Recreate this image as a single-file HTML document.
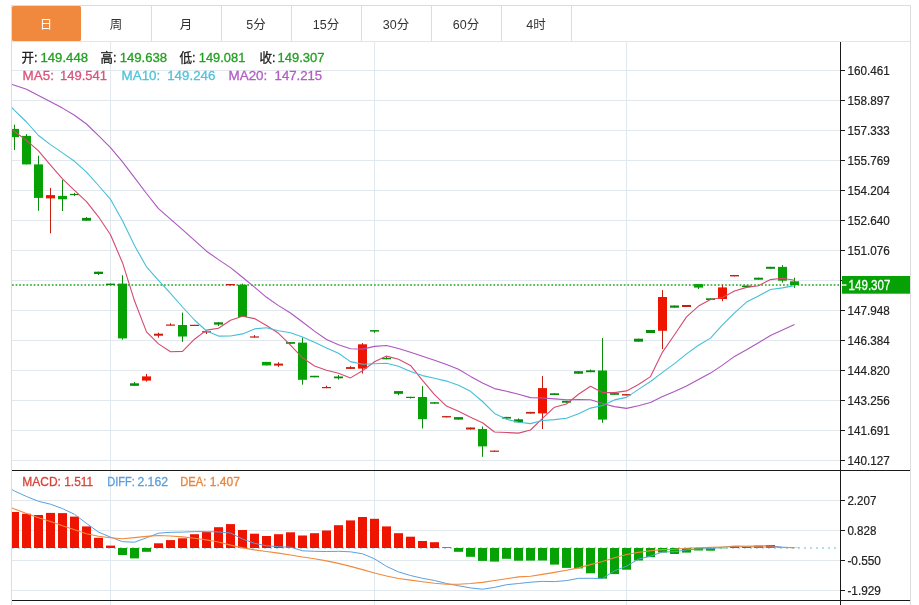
<!DOCTYPE html><html><head><meta charset="utf-8"><title>K线</title><style>html,body{margin:0;padding:0;background:#fff}</style></head><body><svg width="919" height="605" viewBox="0 0 919 605" style="display:block;font-family:'Liberation Sans','Noto Sans CJK SC',sans-serif">
<rect width="919" height="605" fill="#fff"/>
<defs><clipPath id="cm"><rect x="12" y="42" width="828" height="428"/></clipPath><clipPath id="cd"><rect x="12" y="471" width="828" height="129"/></clipPath></defs>
<path d="M12 70.5H840 M12 100.5H840 M12 130.5H840 M12 160.5H840 M12 190.5H840 M12 220.5H840 M12 250.5H840 M12 280.5H840 M12 310.5H840 M12 340.5H840 M12 370.5H840 M12 400.5H840 M12 430.5H840 M12 460.5H840 M12 500.5H840 M12 530.5H840 M12 560.5H840 M12 590.5H840 M110.5 41.5V605 M374.5 41.5V605 M626.5 41.5V605" stroke="#e1e8ee" stroke-width="1" fill="none"/>
<path d="M11.5 605V5.5H910.5V605" stroke="#dcdcdc" fill="none"/>
<path d="M12 41.5H910" stroke="#e2e6ea" fill="none"/>
<path d="M151.5 6V41 M221.5 6V41 M291.5 6V41 M361.5 6V41 M431.5 6V41 M501.5 6V41 M571.5 6V41" stroke="#dcdcdc" fill="none"/>
<rect x="12" y="6" width="69" height="35" rx="1.5" fill="#f0883e"/>
<text x="46" y="28.5" font-size="12.5" text-anchor="middle" fill="#fff">日</text>
<text x="116" y="28.5" font-size="12.5" text-anchor="middle" fill="#333">周</text>
<text x="186" y="28.5" font-size="12.5" text-anchor="middle" fill="#333">月</text>
<text x="256" y="28.5" font-size="12.5" text-anchor="middle" fill="#333">5分</text>
<text x="326" y="28.5" font-size="12.5" text-anchor="middle" fill="#333">15分</text>
<text x="396" y="28.5" font-size="12.5" text-anchor="middle" fill="#333">30分</text>
<text x="466" y="28.5" font-size="12.5" text-anchor="middle" fill="#333">60分</text>
<text x="536" y="28.5" font-size="12.5" text-anchor="middle" fill="#333">4时</text>
<g clip-path="url(#cm)">
<path d="M12 285H840" stroke="#56b956" stroke-width="2" stroke-dasharray="1.7 1.92" fill="none"/>
<path d="M14.5 124.7V150.0" stroke="#0a8c0a" stroke-width="1"/>
<rect x="10.0" y="128.9" width="9" height="8.2" fill="#05a105"/>
<path d="M26.5 134.1V164.4" stroke="#0a8c0a" stroke-width="1"/>
<rect x="22.0" y="135.9" width="9" height="28.5" fill="#05a105"/>
<path d="M38.5 155.7V210.8" stroke="#0a8c0a" stroke-width="1"/>
<rect x="34.0" y="164.4" width="9" height="33.5" fill="#05a105"/>
<path d="M50.5 187.9V233.3" stroke="#c41e0e" stroke-width="1"/>
<rect x="46.0" y="195.1" width="9" height="3.3" fill="#ee1400"/>
<path d="M62.5 179.8V211.0" stroke="#0a8c0a" stroke-width="1"/>
<rect x="58.0" y="195.9" width="9" height="3.4" fill="#05a105"/>
<path d="M74.5 192.9V196.1" stroke="#0a8c0a" stroke-width="1"/>
<rect x="70.0" y="193.9" width="9" height="1.2" fill="#0a8c0a"/>
<path d="M86.5 217.0V220.7" stroke="#0a8c0a" stroke-width="1"/>
<rect x="82.0" y="217.9" width="9" height="2.8" fill="#0a8c0a"/>
<path d="M98.5 271.7V275.0" stroke="#0a8c0a" stroke-width="1"/>
<rect x="94.0" y="271.7" width="9" height="2.3" fill="#0a8c0a"/>
<path d="M110.5 283.6V285.1" stroke="#0a8c0a" stroke-width="1"/>
<rect x="106.0" y="283.6" width="9" height="1.5" fill="#0a8c0a"/>
<path d="M122.5 275.2V339.7" stroke="#0a8c0a" stroke-width="1"/>
<rect x="118.0" y="283.6" width="9" height="54.8" fill="#05a105"/>
<path d="M134.5 382.0V385.8" stroke="#0a8c0a" stroke-width="1"/>
<rect x="130.0" y="383.3" width="9" height="2.5" fill="#0a8c0a"/>
<path d="M146.5 373.9V381.6" stroke="#c41e0e" stroke-width="1"/>
<rect x="142.0" y="376.4" width="9" height="4.2" fill="#ee1400"/>
<path d="M158.5 332.7V337.7" stroke="#c41e0e" stroke-width="1"/>
<rect x="154.0" y="333.7" width="9" height="2.0" fill="#c41e0e"/>
<path d="M170.5 323.3V325.5" stroke="#c41e0e" stroke-width="1"/>
<rect x="166.0" y="324.5" width="9" height="1.2" fill="#c41e0e"/>
<path d="M182.5 312.6V341.9" stroke="#0a8c0a" stroke-width="1"/>
<rect x="178.0" y="325.0" width="9" height="11.5" fill="#05a105"/>
<path d="M194.5 324.8V326.0" stroke="#c41e0e" stroke-width="1"/>
<rect x="190.0" y="324.8" width="9" height="1.2" fill="#c41e0e"/>
<path d="M206.5 331.2V334.0" stroke="#c41e0e" stroke-width="1"/>
<rect x="202.0" y="331.2" width="9" height="1.3" fill="#c41e0e"/>
<path d="M218.5 322.3V326.0" stroke="#0a8c0a" stroke-width="1"/>
<rect x="214.0" y="322.3" width="9" height="2.3" fill="#0a8c0a"/>
<path d="M230.5 284.0V285.3" stroke="#c41e0e" stroke-width="1"/>
<rect x="226.0" y="284.0" width="9" height="1.3" fill="#c41e0e"/>
<path d="M242.5 283.6V317.0" stroke="#0a8c0a" stroke-width="1"/>
<rect x="238.0" y="284.8" width="9" height="32.2" fill="#05a105"/>
<path d="M254.5 335.1V337.6" stroke="#c41e0e" stroke-width="1"/>
<rect x="250.0" y="336.4" width="9" height="1.2" fill="#c41e0e"/>
<path d="M266.5 361.9V365.4" stroke="#0a8c0a" stroke-width="1"/>
<rect x="262.0" y="361.9" width="9" height="3.5" fill="#05a105"/>
<path d="M278.5 362.2V366.9" stroke="#c41e0e" stroke-width="1"/>
<rect x="274.0" y="363.6" width="9" height="2.0" fill="#c41e0e"/>
<path d="M290.5 342.1V343.8" stroke="#0a8c0a" stroke-width="1"/>
<rect x="286.0" y="342.1" width="9" height="1.7" fill="#0a8c0a"/>
<path d="M302.5 337.6V384.7" stroke="#0a8c0a" stroke-width="1"/>
<rect x="298.0" y="342.6" width="9" height="37.2" fill="#05a105"/>
<path d="M314.5 375.8V377.3" stroke="#0a8c0a" stroke-width="1"/>
<rect x="310.0" y="375.8" width="9" height="1.5" fill="#0a8c0a"/>
<path d="M326.5 385.7V388.2" stroke="#c41e0e" stroke-width="1"/>
<rect x="322.0" y="387.0" width="9" height="1.2" fill="#c41e0e"/>
<path d="M338.5 375.0V379.5" stroke="#0a8c0a" stroke-width="1"/>
<rect x="334.0" y="376.5" width="9" height="1.8" fill="#0a8c0a"/>
<path d="M350.5 366.1V368.9" stroke="#c41e0e" stroke-width="1"/>
<rect x="346.0" y="367.1" width="9" height="1.8" fill="#c41e0e"/>
<path d="M362.5 343.1V373.6" stroke="#c41e0e" stroke-width="1"/>
<rect x="358.0" y="344.3" width="9" height="24.3" fill="#ee1400"/>
<path d="M374.5 330.1V332.8" stroke="#0a8c0a" stroke-width="1"/>
<rect x="370.0" y="330.1" width="9" height="1.5" fill="#0a8c0a"/>
<path d="M386.5 356.4V359.3" stroke="#0a8c0a" stroke-width="1"/>
<rect x="382.0" y="357.9" width="9" height="1.4" fill="#0a8c0a"/>
<path d="M398.5 391.1V395.3" stroke="#0a8c0a" stroke-width="1"/>
<rect x="394.0" y="391.1" width="9" height="2.7" fill="#0a8c0a"/>
<path d="M410.5 396.8V398.5" stroke="#0a8c0a" stroke-width="1"/>
<rect x="406.0" y="396.8" width="9" height="1.2" fill="#0a8c0a"/>
<path d="M422.5 386.1V428.5" stroke="#0a8c0a" stroke-width="1"/>
<rect x="418.0" y="397.0" width="9" height="22.1" fill="#05a105"/>
<path d="M434.5 402.2V403.7" stroke="#0a8c0a" stroke-width="1"/>
<rect x="430.0" y="402.2" width="9" height="1.5" fill="#0a8c0a"/>
<path d="M446.5 416.1V417.4" stroke="#c41e0e" stroke-width="1"/>
<rect x="442.0" y="416.1" width="9" height="1.3" fill="#c41e0e"/>
<path d="M458.5 417.1V419.6" stroke="#0a8c0a" stroke-width="1"/>
<rect x="454.0" y="417.1" width="9" height="2.5" fill="#0a8c0a"/>
<path d="M470.5 427.5V429.5" stroke="#c41e0e" stroke-width="1"/>
<rect x="466.0" y="427.5" width="9" height="2.0" fill="#c41e0e"/>
<path d="M482.5 426.5V456.8" stroke="#0a8c0a" stroke-width="1"/>
<rect x="478.0" y="429.0" width="9" height="17.4" fill="#05a105"/>
<path d="M494.5 450.6V451.8" stroke="#c41e0e" stroke-width="1"/>
<rect x="490.0" y="450.6" width="9" height="1.2" fill="#c41e0e"/>
<path d="M506.5 416.9V418.6" stroke="#0a8c0a" stroke-width="1"/>
<rect x="502.0" y="416.9" width="9" height="1.7" fill="#0a8c0a"/>
<path d="M518.5 418.4V422.3" stroke="#0a8c0a" stroke-width="1"/>
<rect x="514.0" y="419.3" width="9" height="3.0" fill="#0a8c0a"/>
<path d="M530.5 411.9V413.6" stroke="#c41e0e" stroke-width="1"/>
<rect x="526.0" y="411.9" width="9" height="1.7" fill="#c41e0e"/>
<path d="M542.5 376.0V429.0" stroke="#c41e0e" stroke-width="1"/>
<rect x="538.0" y="388.1" width="9" height="25.3" fill="#ee1400"/>
<path d="M554.5 393.3V395.0" stroke="#0a8c0a" stroke-width="1"/>
<rect x="550.0" y="393.3" width="9" height="1.7" fill="#0a8c0a"/>
<path d="M566.5 400.8V402.7" stroke="#0a8c0a" stroke-width="1"/>
<rect x="562.0" y="400.8" width="9" height="1.9" fill="#0a8c0a"/>
<path d="M578.5 371.2V373.7" stroke="#0a8c0a" stroke-width="1"/>
<rect x="574.0" y="371.2" width="9" height="2.5" fill="#0a8c0a"/>
<path d="M590.5 369.5V372.2" stroke="#0a8c0a" stroke-width="1"/>
<rect x="586.0" y="370.3" width="9" height="1.9" fill="#0a8c0a"/>
<path d="M602.5 338.0V422.8" stroke="#0a8c0a" stroke-width="1"/>
<rect x="598.0" y="370.5" width="9" height="49.1" fill="#05a105"/>
<path d="M614.5 393.1V394.8" stroke="#0a8c0a" stroke-width="1"/>
<rect x="610.0" y="393.1" width="9" height="1.7" fill="#0a8c0a"/>
<path d="M626.5 394.1V395.5" stroke="#c41e0e" stroke-width="1"/>
<rect x="622.0" y="394.1" width="9" height="1.4" fill="#c41e0e"/>
<path d="M638.5 338.7V341.7" stroke="#0a8c0a" stroke-width="1"/>
<rect x="634.0" y="338.7" width="9" height="3.0" fill="#0a8c0a"/>
<path d="M650.5 330.0V333.0" stroke="#0a8c0a" stroke-width="1"/>
<rect x="646.0" y="330.0" width="9" height="3.0" fill="#0a8c0a"/>
<path d="M662.5 290.1V349.1" stroke="#c41e0e" stroke-width="1"/>
<rect x="658.0" y="297.0" width="9" height="33.8" fill="#ee1400"/>
<path d="M674.5 305.5V307.7" stroke="#0a8c0a" stroke-width="1"/>
<rect x="670.0" y="305.5" width="9" height="2.2" fill="#0a8c0a"/>
<path d="M686.5 305.0V307.0" stroke="#c41e0e" stroke-width="1"/>
<rect x="682.0" y="305.0" width="9" height="2.0" fill="#c41e0e"/>
<path d="M698.5 284.1V289.1" stroke="#0a8c0a" stroke-width="1"/>
<rect x="694.0" y="284.1" width="9" height="3.5" fill="#05a105"/>
<path d="M710.5 298.3V300.0" stroke="#0a8c0a" stroke-width="1"/>
<rect x="706.0" y="298.3" width="9" height="1.7" fill="#0a8c0a"/>
<path d="M722.5 284.6V301.2" stroke="#c41e0e" stroke-width="1"/>
<rect x="718.0" y="287.4" width="9" height="11.6" fill="#ee1400"/>
<path d="M734.5 275.0V276.4" stroke="#c41e0e" stroke-width="1"/>
<rect x="730.0" y="275.0" width="9" height="1.4" fill="#c41e0e"/>
<path d="M746.5 285.6V287.1" stroke="#0a8c0a" stroke-width="1"/>
<rect x="742.0" y="285.6" width="9" height="1.5" fill="#0a8c0a"/>
<path d="M758.5 277.7V279.7" stroke="#0a8c0a" stroke-width="1"/>
<rect x="754.0" y="277.7" width="9" height="2.0" fill="#0a8c0a"/>
<path d="M770.5 266.8V268.8" stroke="#0a8c0a" stroke-width="1"/>
<rect x="766.0" y="266.8" width="9" height="2.0" fill="#0a8c0a"/>
<path d="M782.5 265.1V282.5" stroke="#0a8c0a" stroke-width="1"/>
<rect x="778.0" y="266.9" width="9" height="13.8" fill="#05a105"/>
<path d="M794.5 277.7V287.9" stroke="#0a8c0a" stroke-width="1"/>
<rect x="790.0" y="281.3" width="9" height="3.7" fill="#05a105"/>
<path d="M12.0 129.5 L14.5 131.5 L26.5 140.4 L38.5 150.8 L50.5 165.2 L62.5 178.8 L74.5 190.4 L86.5 201.6 L98.5 216.8 L110.5 234.8 L122.5 262.7 L134.5 300.8 L146.5 331.9 L158.5 343.9 L170.5 351.8 L182.5 351.4 L194.5 339.2 L206.5 330.1 L218.5 328.3 L230.5 320.2 L242.5 316.3 L254.5 318.6 L266.5 325.5 L278.5 333.3 L290.5 345.2 L302.5 357.8 L314.5 366.0 L326.5 370.3 L338.5 373.2 L350.5 377.9 L362.5 370.8 L374.5 361.7 L386.5 356.1 L398.5 359.2 L410.5 365.4 L422.5 380.3 L434.5 394.7 L446.5 406.1 L458.5 411.3 L470.5 417.2 L482.5 422.7 L494.5 432.0 L506.5 432.5 L518.5 433.1 L530.5 430.0 L542.5 418.3 L554.5 407.2 L566.5 404.0 L578.5 394.3 L590.5 386.3 L602.5 392.6 L614.5 392.6 L626.5 390.9 L638.5 384.5 L650.5 376.6 L662.5 352.1 L674.5 334.7 L686.5 316.9 L698.5 306.1 L710.5 299.5 L722.5 297.5 L734.5 291.0 L746.5 287.4 L758.5 285.8 L770.5 279.6 L782.5 278.3 L794.5 280.3" stroke="#d64a70" stroke-width="1.1" fill="none" stroke-linejoin="round"/>
<path d="M12.0 107.7 L14.5 110.3 L26.5 122.0 L38.5 135.5 L50.5 144.6 L62.5 152.9 L74.5 161.3 L86.5 172.2 L98.5 185.5 L110.5 199.3 L122.5 220.7 L134.5 245.6 L146.5 266.8 L158.5 280.4 L170.5 293.3 L182.5 307.0 L194.5 320.0 L206.5 331.0 L218.5 336.1 L230.5 336.0 L242.5 333.9 L254.5 328.9 L266.5 327.8 L278.5 330.8 L290.5 332.7 L302.5 337.1 L314.5 342.3 L326.5 347.9 L338.5 353.3 L350.5 361.6 L362.5 364.3 L374.5 363.8 L386.5 363.2 L398.5 366.2 L410.5 371.6 L422.5 375.6 L434.5 378.2 L446.5 381.1 L458.5 385.2 L470.5 391.3 L482.5 401.5 L494.5 413.4 L506.5 419.3 L518.5 422.2 L530.5 423.6 L542.5 420.5 L554.5 419.6 L566.5 418.3 L578.5 413.7 L590.5 408.1 L602.5 405.5 L614.5 399.9 L626.5 397.4 L638.5 389.4 L650.5 381.5 L662.5 372.4 L674.5 363.6 L686.5 353.9 L698.5 345.3 L710.5 338.1 L722.5 324.8 L734.5 312.9 L746.5 302.1 L758.5 295.9 L770.5 289.5 L782.5 287.9 L794.5 285.6" stroke="#45bfd9" stroke-width="1.1" fill="none" stroke-linejoin="round"/>
<path d="M12.0 84.5 L14.5 85.3 L26.5 89.2 L38.5 95.4 L50.5 101.7 L62.5 108.1 L74.5 115.2 L86.5 124.0 L98.5 135.6 L110.5 147.7 L122.5 161.8 L134.5 177.6 L146.5 193.5 L158.5 208.6 L170.5 219.2 L182.5 229.7 L194.5 240.3 L206.5 251.2 L218.5 259.6 L230.5 267.6 L242.5 277.3 L254.5 287.2 L266.5 297.3 L278.5 305.6 L290.5 313.0 L302.5 322.0 L314.5 331.1 L326.5 339.5 L338.5 344.7 L350.5 348.8 L362.5 349.1 L374.5 346.4 L386.5 345.5 L398.5 348.5 L410.5 352.2 L422.5 356.3 L434.5 360.3 L446.5 364.5 L458.5 369.2 L470.5 376.4 L482.5 382.9 L494.5 388.6 L506.5 391.3 L518.5 394.2 L530.5 397.6 L542.5 398.0 L554.5 398.9 L566.5 399.7 L578.5 399.5 L590.5 399.7 L602.5 403.5 L614.5 406.6 L626.5 408.4 L638.5 405.8 L650.5 402.5 L662.5 396.4 L674.5 391.6 L686.5 386.1 L698.5 379.5 L710.5 373.1 L722.5 365.1 L734.5 356.4 L746.5 349.8 L758.5 342.7 L770.5 335.5 L782.5 330.1 L794.5 324.6" stroke="#ad55c0" stroke-width="1.1" fill="none" stroke-linejoin="round"/>
</g>
<g clip-path="url(#cd)">
<path d="M12 548H840" stroke="#b4dcea" stroke-width="2" stroke-dasharray="2 4" fill="none"/>
<rect x="10.0" y="512.0" width="9" height="36.0" fill="#ee1400"/>
<rect x="22.0" y="513.8" width="9" height="34.2" fill="#ee1400"/>
<rect x="34.0" y="515.0" width="9" height="33.0" fill="#ee1400"/>
<rect x="46.0" y="512.9" width="9" height="35.1" fill="#ee1400"/>
<rect x="58.0" y="513.1" width="9" height="34.9" fill="#ee1400"/>
<rect x="70.0" y="516.6" width="9" height="31.4" fill="#ee1400"/>
<rect x="82.0" y="526.4" width="9" height="21.6" fill="#ee1400"/>
<rect x="94.0" y="537.8" width="9" height="10.2" fill="#ee1400"/>
<rect x="106.0" y="545.6" width="9" height="2.4" fill="#ee1400"/>
<rect x="118.0" y="548" width="9" height="7.0" fill="#05a105"/>
<rect x="130.0" y="548" width="9" height="10.4" fill="#05a105"/>
<rect x="142.0" y="548" width="9" height="3.8" fill="#05a105"/>
<rect x="154.0" y="543.3" width="9" height="4.7" fill="#ee1400"/>
<rect x="166.0" y="540.1" width="9" height="7.9" fill="#ee1400"/>
<rect x="178.0" y="538.3" width="9" height="9.7" fill="#ee1400"/>
<rect x="190.0" y="534.2" width="9" height="13.8" fill="#ee1400"/>
<rect x="202.0" y="532.1" width="9" height="15.9" fill="#ee1400"/>
<rect x="214.0" y="527.2" width="9" height="20.8" fill="#ee1400"/>
<rect x="226.0" y="524.1" width="9" height="23.9" fill="#ee1400"/>
<rect x="238.0" y="530.0" width="9" height="18.0" fill="#ee1400"/>
<rect x="250.0" y="533.7" width="9" height="14.3" fill="#ee1400"/>
<rect x="262.0" y="536.0" width="9" height="12.0" fill="#ee1400"/>
<rect x="274.0" y="534.2" width="9" height="13.8" fill="#ee1400"/>
<rect x="286.0" y="532.3" width="9" height="15.7" fill="#ee1400"/>
<rect x="298.0" y="535.5" width="9" height="12.5" fill="#ee1400"/>
<rect x="310.0" y="533.2" width="9" height="14.8" fill="#ee1400"/>
<rect x="322.0" y="530.5" width="9" height="17.5" fill="#ee1400"/>
<rect x="334.0" y="525.2" width="9" height="22.8" fill="#ee1400"/>
<rect x="346.0" y="520.4" width="9" height="27.6" fill="#ee1400"/>
<rect x="358.0" y="517.0" width="9" height="31.0" fill="#ee1400"/>
<rect x="370.0" y="518.8" width="9" height="29.2" fill="#ee1400"/>
<rect x="382.0" y="526.4" width="9" height="21.6" fill="#ee1400"/>
<rect x="394.0" y="533.2" width="9" height="14.8" fill="#ee1400"/>
<rect x="406.0" y="536.7" width="9" height="11.3" fill="#ee1400"/>
<rect x="418.0" y="541.0" width="9" height="7.0" fill="#ee1400"/>
<rect x="430.0" y="542.2" width="9" height="5.8" fill="#ee1400"/>
<rect x="442.0" y="547.3" width="9" height="0.7" fill="#ee1400"/>
<rect x="454.0" y="548" width="9" height="3.8" fill="#05a105"/>
<rect x="466.0" y="548" width="9" height="8.8" fill="#05a105"/>
<rect x="478.0" y="548" width="9" height="12.9" fill="#05a105"/>
<rect x="490.0" y="548" width="9" height="13.6" fill="#05a105"/>
<rect x="502.0" y="548" width="9" height="10.8" fill="#05a105"/>
<rect x="514.0" y="548" width="9" height="12.7" fill="#05a105"/>
<rect x="526.0" y="548" width="9" height="12.6" fill="#05a105"/>
<rect x="538.0" y="548" width="9" height="12.5" fill="#05a105"/>
<rect x="550.0" y="548" width="9" height="16.6" fill="#05a105"/>
<rect x="562.0" y="548" width="9" height="19.9" fill="#05a105"/>
<rect x="574.0" y="548" width="9" height="20.4" fill="#05a105"/>
<rect x="586.0" y="548" width="9" height="25.3" fill="#05a105"/>
<rect x="598.0" y="548" width="9" height="30.6" fill="#05a105"/>
<rect x="610.0" y="548" width="9" height="26.1" fill="#05a105"/>
<rect x="622.0" y="548" width="9" height="21.7" fill="#05a105"/>
<rect x="634.0" y="548" width="9" height="12.5" fill="#05a105"/>
<rect x="646.0" y="548" width="9" height="9.2" fill="#05a105"/>
<rect x="658.0" y="548" width="9" height="4.5" fill="#05a105"/>
<rect x="670.0" y="548" width="9" height="6.0" fill="#05a105"/>
<rect x="682.0" y="548" width="9" height="4.6" fill="#05a105"/>
<rect x="694.0" y="548" width="9" height="2.5" fill="#05a105"/>
<rect x="706.0" y="548" width="9" height="2.7" fill="#05a105"/>
<rect x="718.0" y="548" width="9" height="0.3" fill="#05a105"/>
<rect x="730.0" y="546.3" width="9" height="1.7" fill="#ee1400"/>
<rect x="742.0" y="546.8" width="9" height="1.2" fill="#ee1400"/>
<rect x="754.0" y="545.7" width="9" height="2.3" fill="#ee1400"/>
<rect x="766.0" y="545.0" width="9" height="3.0" fill="#ee1400"/>
<rect x="778.0" y="547.2" width="9" height="0.8" fill="#ee1400"/>
<rect x="790.0" y="547.8" width="9" height="0.2" fill="#ee1400"/>
<path d="M12.0 489.6 L14.5 491.0 L26.5 496.5 L38.5 501.3 L50.5 504.2 L62.5 508.6 L74.5 514.3 L86.5 523.4 L98.5 532.1 L110.5 537.1 L122.5 541.7 L134.5 542.2 L146.5 537.8 L158.5 533.2 L170.5 532.3 L182.5 532.1 L194.5 531.6 L206.5 531.6 L218.5 532.0 L230.5 533.0 L242.5 539.0 L254.5 543.3 L266.5 545.8 L278.5 546.7 L290.5 547.2 L302.5 550.8 L314.5 551.3 L326.5 551.5 L338.5 551.3 L350.5 551.8 L362.5 553.8 L374.5 558.8 L386.5 566.4 L398.5 571.9 L410.5 575.5 L422.5 578.3 L434.5 580.5 L446.5 583.5 L458.5 585.8 L470.5 587.9 L482.5 589.2 L494.5 587.4 L506.5 584.7 L518.5 583.5 L530.5 582.2 L542.5 581.4 L554.5 581.6 L566.5 580.6 L578.5 578.3 L590.5 578.3 L602.5 578.5 L614.5 570.8 L626.5 566.2 L638.5 559.1 L650.5 556.1 L662.5 552.0 L674.5 551.7 L686.5 549.9 L698.5 549.0 L710.5 548.7 L722.5 547.2 L734.5 546.0 L746.5 546.2 L758.5 545.9 L770.5 545.8 L782.5 547.2 L794.5 547.7" stroke="#5aa0e0" stroke-width="1.0" fill="none" stroke-linejoin="round"/>
<path d="M12.0 507.9 L14.5 509.0 L26.5 513.6 L38.5 517.7 L50.5 521.6 L62.5 525.7 L74.5 529.8 L86.5 533.7 L98.5 536.2 L110.5 537.8 L122.5 538.7 L134.5 537.6 L146.5 536.4 L158.5 535.5 L170.5 536.0 L182.5 536.9 L194.5 538.3 L206.5 539.9 L218.5 542.0 L230.5 545.1 L242.5 547.9 L254.5 549.9 L266.5 551.5 L278.5 553.1 L290.5 555.0 L302.5 557.0 L314.5 558.8 L326.5 560.9 L338.5 563.4 L350.5 566.4 L362.5 569.6 L374.5 573.0 L386.5 576.0 L398.5 578.5 L410.5 580.1 L422.5 581.7 L434.5 583.3 L446.5 584.2 L458.5 584.2 L470.5 583.5 L482.5 582.4 L494.5 580.5 L506.5 578.7 L518.5 576.9 L530.5 576.2 L542.5 574.4 L554.5 572.4 L566.5 570.3 L578.5 567.9 L590.5 564.6 L602.5 561.5 L614.5 557.7 L626.5 554.5 L638.5 552.4 L650.5 550.7 L662.5 549.6 L674.5 549.3 L686.5 548.3 L698.5 547.8 L710.5 547.4 L722.5 547.0 L734.5 546.8 L746.5 546.8 L758.5 546.9 L770.5 547.0 L782.5 547.5 L794.5 547.8" stroke="#f08a3c" stroke-width="1.1" fill="none" stroke-linejoin="round"/>
</g>
<path d="M12 470.5H910 M12 600.5H910 M840.5 42V605" stroke="#1a1a1a" stroke-width="1" fill="none"/>
<text x="847.4" y="75.0" font-size="12" fill="#222" stroke="#222" stroke-width="0.2" textLength="42.3" lengthAdjust="spacingAndGlyphs">160.461</text>
<text x="847.4" y="105.0" font-size="12" fill="#222" stroke="#222" stroke-width="0.2" textLength="42.3" lengthAdjust="spacingAndGlyphs">158.897</text>
<text x="847.4" y="135.0" font-size="12" fill="#222" stroke="#222" stroke-width="0.2" textLength="42.3" lengthAdjust="spacingAndGlyphs">157.333</text>
<text x="847.4" y="165.0" font-size="12" fill="#222" stroke="#222" stroke-width="0.2" textLength="42.3" lengthAdjust="spacingAndGlyphs">155.769</text>
<text x="847.4" y="195.0" font-size="12" fill="#222" stroke="#222" stroke-width="0.2" textLength="42.3" lengthAdjust="spacingAndGlyphs">154.204</text>
<text x="847.4" y="225.0" font-size="12" fill="#222" stroke="#222" stroke-width="0.2" textLength="42.3" lengthAdjust="spacingAndGlyphs">152.640</text>
<text x="847.4" y="255.0" font-size="12" fill="#222" stroke="#222" stroke-width="0.2" textLength="42.3" lengthAdjust="spacingAndGlyphs">151.076</text>
<text x="847.4" y="285.0" font-size="12" fill="#222" stroke="#222" stroke-width="0.2" textLength="42.3" lengthAdjust="spacingAndGlyphs">149.512</text>
<text x="847.4" y="315.0" font-size="12" fill="#222" stroke="#222" stroke-width="0.2" textLength="42.3" lengthAdjust="spacingAndGlyphs">147.948</text>
<text x="847.4" y="345.0" font-size="12" fill="#222" stroke="#222" stroke-width="0.2" textLength="42.3" lengthAdjust="spacingAndGlyphs">146.384</text>
<text x="847.4" y="375.0" font-size="12" fill="#222" stroke="#222" stroke-width="0.2" textLength="42.3" lengthAdjust="spacingAndGlyphs">144.820</text>
<text x="847.4" y="405.0" font-size="12" fill="#222" stroke="#222" stroke-width="0.2" textLength="42.3" lengthAdjust="spacingAndGlyphs">143.256</text>
<text x="847.4" y="435.0" font-size="12" fill="#222" stroke="#222" stroke-width="0.2" textLength="42.3" lengthAdjust="spacingAndGlyphs">141.691</text>
<text x="847.4" y="465.0" font-size="12" fill="#222" stroke="#222" stroke-width="0.2" textLength="42.3" lengthAdjust="spacingAndGlyphs">140.127</text>
<text x="847.4" y="505.0" font-size="12" fill="#222" stroke="#222" stroke-width="0.2" textLength="29" lengthAdjust="spacingAndGlyphs">2.207</text>
<text x="847.4" y="535.0" font-size="12" fill="#222" stroke="#222" stroke-width="0.2" textLength="29" lengthAdjust="spacingAndGlyphs">0.828</text>
<text x="847.4" y="565.0" font-size="12" fill="#222" stroke="#222" stroke-width="0.2" textLength="33.5" lengthAdjust="spacingAndGlyphs">-0.550</text>
<text x="847.4" y="595.0" font-size="12" fill="#222" stroke="#222" stroke-width="0.2" textLength="33.5" lengthAdjust="spacingAndGlyphs">-1.929</text>
<path d="M841 70.5H845 M841 100.5H845 M841 130.5H845 M841 160.5H845 M841 190.5H845 M841 220.5H845 M841 250.5H845 M841 280.5H845 M841 310.5H845 M841 340.5H845 M841 370.5H845 M841 400.5H845 M841 430.5H845 M841 460.5H845 M841 500.5H845 M841 530.5H845 M841 560.5H845 M841 590.5H845" stroke="#1a1a1a" fill="none"/>
<rect x="842" y="276" width="68" height="17.7" fill="#05a105"/>
<path d="M842 285H846.5" stroke="#fff" stroke-width="1.4"/>
<text x="848.6" y="289.7" font-size="14" fill="#fff" stroke="#fff" stroke-width="0.3" textLength="41.8"lengthAdjust="spacingAndGlyphs">149.307</text>
<text x="21.6" y="61.9" font-size="13" fill="#222" stroke="#222" stroke-width="0.3" textLength="16" lengthAdjust="spacingAndGlyphs">开:</text>
<text x="40.5" y="62.3" font-size="13" fill="#22a022" stroke="#22a022" stroke-width="0.3" textLength="47.5" lengthAdjust="spacingAndGlyphs">149.448</text>
<text x="100.6" y="61.9" font-size="13" fill="#222" stroke="#222" stroke-width="0.3" textLength="16" lengthAdjust="spacingAndGlyphs">高:</text>
<text x="119.7" y="62.3" font-size="13" fill="#22a022" stroke="#22a022" stroke-width="0.3" textLength="47.5" lengthAdjust="spacingAndGlyphs">149.638</text>
<text x="179.6" y="61.9" font-size="13" fill="#222" stroke="#222" stroke-width="0.3" textLength="16" lengthAdjust="spacingAndGlyphs">低:</text>
<text x="198.8" y="62.3" font-size="13" fill="#22a022" stroke="#22a022" stroke-width="0.3" textLength="46.5" lengthAdjust="spacingAndGlyphs">149.081</text>
<text x="259.5" y="61.9" font-size="13" fill="#222" stroke="#222" stroke-width="0.3" textLength="16" lengthAdjust="spacingAndGlyphs">收:</text>
<text x="277.5" y="62.3" font-size="13" fill="#22a022" stroke="#22a022" stroke-width="0.3" textLength="47" lengthAdjust="spacingAndGlyphs">149.307</text>
<text x="22.6" y="80.3" font-size="13" fill="#d9547a" stroke="#d9547a" stroke-width="0.3" textLength="31.3" lengthAdjust="spacingAndGlyphs">MA5:</text>
<text x="60.0" y="80.3" font-size="13" fill="#d9547a" stroke="#d9547a" stroke-width="0.3" textLength="47.1" lengthAdjust="spacingAndGlyphs">149.541</text>
<text x="121.5" y="80.3" font-size="13" fill="#4fc3dc" stroke="#4fc3dc" stroke-width="0.3" textLength="38.8" lengthAdjust="spacingAndGlyphs">MA10:</text>
<text x="167.2" y="80.3" font-size="13" fill="#4fc3dc" stroke="#4fc3dc" stroke-width="0.3" textLength="48.2" lengthAdjust="spacingAndGlyphs">149.246</text>
<text x="228.5" y="80.3" font-size="13" fill="#b25cc4" stroke="#b25cc4" stroke-width="0.3" textLength="38.8" lengthAdjust="spacingAndGlyphs">MA20:</text>
<text x="274.6" y="80.3" font-size="13" fill="#b25cc4" stroke="#b25cc4" stroke-width="0.3" textLength="47.6" lengthAdjust="spacingAndGlyphs">147.215</text>
<text x="22.3" y="485.7" font-size="12" fill="#d9433c" stroke="#d9433c" stroke-width="0.3" textLength="38.6" lengthAdjust="spacingAndGlyphs">MACD:</text>
<text x="64.3" y="485.7" font-size="12" fill="#d9433c" stroke="#d9433c" stroke-width="0.3" textLength="28.7" lengthAdjust="spacingAndGlyphs">1.511</text>
<text x="107.2" y="485.7" font-size="12" fill="#5a9fdc" stroke="#5a9fdc" stroke-width="0.3" textLength="27.6" lengthAdjust="spacingAndGlyphs">DIFF:</text>
<text x="137.4" y="485.7" font-size="12" fill="#5a9fdc" stroke="#5a9fdc" stroke-width="0.3" textLength="30.6" lengthAdjust="spacingAndGlyphs">2.162</text>
<text x="180.3" y="485.7" font-size="12" fill="#e8853c" stroke="#e8853c" stroke-width="0.3" textLength="26.1" lengthAdjust="spacingAndGlyphs">DEA:</text>
<text x="209.8" y="485.7" font-size="12" fill="#e8853c" stroke="#e8853c" stroke-width="0.3" textLength="30" lengthAdjust="spacingAndGlyphs">1.407</text>
</svg></body></html>
